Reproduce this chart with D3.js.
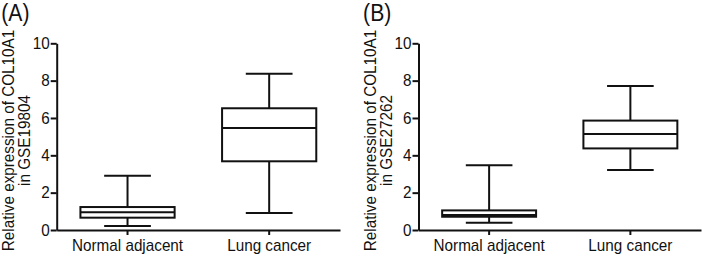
<!DOCTYPE html>
<html>
<head>
<meta charset="utf-8">
<script src="https://cdn.jsdelivr.net/npm/d3@7"></script>
<style>
  body { margin: 0; background: #fff; }
  svg { display: block; font-family: "Liberation Sans", Arial, sans-serif; }
</style>
</head>
<body>
<svg id="chart" width="702" height="256"></svg>
<script>
// categories on the x axis
const categories = ["Normal adjacent", "Lung cancer"];
const yTicks = [0, 2, 4, 6, 8, 10];
const panelLabels = ["(A)", "(B)"];
const datasets = ["GSE19804", "GSE27262"];

// box stats per category: [min, q1, median, q3, max]
const gse19804 = [[0.21, 0.66, 0.95, 1.23, 2.91], [0.91, 3.68, 5.46, 6.52, 8.37]];
const gse27262 = [[0.39, 0.71, 0.80, 1.05, 3.47], [3.21, 4.37, 5.14, 5.86, 7.71]];

const svg = d3.select("#chart");
const ink = "#111";
const fontSize = "16.6px";

const y = d3.scaleLinear().domain([0, 10]).range([230, 43.3]);

// panel layout
const panels = [
    { label: panelLabels[0], name: datasets[0], stats: gse19804, x0: 56.7, x1: 340 },
    { label: panelLabels[1], name: datasets[1], stats: gse27262, x0: 418.5, x1: 701 }
];

panels.forEach((p) => {
    const g = svg.append("g");
    const x = d3.scaleBand().domain(categories).range([p.x0, p.x1]);
    const bw = x.bandwidth();
    const boxW = bw * 0.665;
    const capW = bw * 0.33;

    // panel letter
    g.append("text")
        .attr("x", p.x0 - 55.4)
        .attr("y", 20.7)
        .style("font-size", "23px")
        .style("fill", ink)
        .text(p.label);

    // y axis
    const yAxis = g.append("g")
        .attr("transform", `translate(${p.x0},0)`)
        .call(d3.axisLeft(y).tickValues(yTicks).tickSize(6).tickSizeOuter(0).tickPadding(1));

    // x axis
    const xAxis = g.append("g")
        .attr("transform", `translate(0,${y(0)})`)
        .call(d3.axisBottom(x).tickSize(5).tickSizeOuter(0).tickPadding(4));

    [yAxis, xAxis].forEach((a) => {
        a.select(".domain").attr("stroke", ink).attr("stroke-width", 2);
        a.selectAll(".tick line").attr("stroke", ink).attr("stroke-width", 2);
        a.selectAll(".tick text").attr("fill", ink).style("font-size", fontSize).attr("font-family", null);
    });

    // y title, two lines
    const title = g.append("text")
        .attr("class", "multi")
        .attr("transform", `translate(${p.x0 - 42.5},140.5) rotate(-90)`)
        .attr("text-anchor", "middle")
        .style("font-size", fontSize)
        .style("fill", ink);
    title.append("tspan").attr("x", 0).attr("y", 0).text("Relative expression of COL10A1");
    title.append("tspan").attr("x", 0).attr("y", 16).text("in " + p.name);

    // boxes
    const boxes = g.selectAll("g.box")
        .data(p.stats)
        .join("g")
        .attr("class", "box")
        .attr("transform", (d, i) => `translate(${x(categories[i]) + bw / 2},0)`);

    const line = (sel) => sel.attr("stroke", ink).attr("stroke-width", 2).attr("fill", "none");

    // whiskers
    boxes.append("line").attr("x1", 0).attr("x2", 0)
        .attr("y1", d => y(d[0])).attr("y2", d => y(d[1])).call(line);
    boxes.append("line").attr("x1", 0).attr("x2", 0)
        .attr("y1", d => y(d[3])).attr("y2", d => y(d[4])).call(line);
    // caps
    boxes.append("line").attr("x1", -capW / 2).attr("x2", capW / 2)
        .attr("y1", d => y(d[0])).attr("y2", d => y(d[0])).call(line);
    boxes.append("line").attr("x1", -capW / 2).attr("x2", capW / 2)
        .attr("y1", d => y(d[4])).attr("y2", d => y(d[4])).call(line);
    // box
    boxes.append("rect")
        .attr("x", -boxW / 2).attr("width", boxW)
        .attr("y", d => y(d[3])).attr("height", d => y(d[1]) - y(d[3]))
        .call(line).attr("fill", "#fff");
    // median
    boxes.append("line").attr("x1", -boxW / 2).attr("x2", boxW / 2)
        .attr("y1", d => y(d[2])).attr("y2", d => y(d[2])).call(line);
});

// the original font runs a bit narrower than Arial: squeeze glyphs to ~92%
svg.selectAll("text:not(.multi), text.multi tspan").each(function () {
    const w = this.getComputedTextLength();
    this.setAttribute("textLength", w * 0.92);
    this.setAttribute("lengthAdjust", "spacingAndGlyphs");
});
</script>
</body>
</html>
